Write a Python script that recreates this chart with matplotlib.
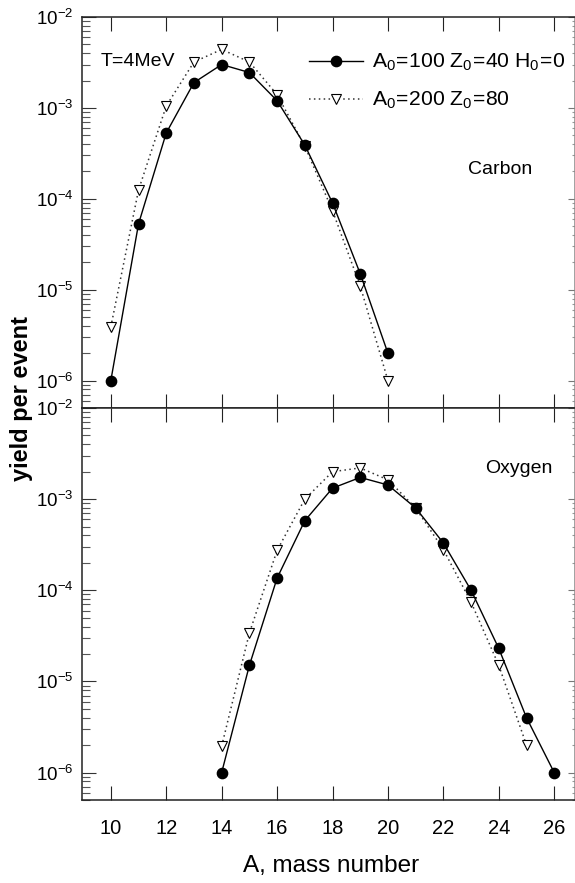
import matplotlib
matplotlib.use('Agg')
import matplotlib.pyplot as plt
from matplotlib.ticker import LogLocator, FixedLocator, NullFormatter, FuncFormatter
import numpy as np

plt.rcParams['font.family'] = ['Liberation Sans', 'DejaVu Sans']
plt.rcParams['mathtext.fontset'] = 'custom'
plt.rcParams['mathtext.rm'] = 'Liberation Sans'
plt.rcParams['mathtext.it'] = 'Liberation Sans:italic'
plt.rcParams['mathtext.bf'] = 'Liberation Sans:bold'

# ---------------- data ----------------
carbon_A = [10, 11, 12, 13, 14, 15, 16, 17, 18, 19, 20]
carbon_y1 = [1.0e-6, 5.3e-5, 5.3e-4, 1.9e-3, 3.0e-3, 2.45e-3, 1.2e-3, 3.9e-4, 9.0e-5, 1.5e-5, 2.0e-6]
carbon_y2 = [3.9e-6, 1.25e-4, 1.05e-3, 3.2e-3, 4.4e-3, 3.2e-3, 1.4e-3, 3.8e-4, 7.4e-5, 1.1e-5, 1.0e-6]

oxygen_A1 = [14, 15, 16, 17, 18, 19, 20, 21, 22, 23, 24, 25, 26]
oxygen_y1 = [1.0e-6, 1.5e-5, 1.36e-4, 5.8e-4, 1.32e-3, 1.73e-3, 1.43e-3, 8.0e-4, 3.3e-4, 1.0e-4, 2.3e-5, 4.0e-6, 1.0e-6]
oxygen_A2 = [14, 15, 16, 17, 18, 19, 20, 21, 22, 23, 24, 25]
oxygen_y2 = [1.95e-6, 3.4e-5, 2.74e-4, 1.0e-3, 2.0e-3, 2.2e-3, 1.63e-3, 8.0e-4, 2.8e-4, 7.4e-5, 1.5e-5, 2.0e-6]

x_ticks = [10, 12, 14, 16, 18, 20, 22, 24, 26]
label1 = r'$\mathregular{A_0\!=\!100\ Z_0\!=\!40\ H_0\!=\!0}$'
label2 = r'$\mathregular{A_0\!=\!200\ Z_0\!=\!80}$'

# ---------------- figure ----------------
W, H = 575, 883
fig = plt.figure(figsize=(W / 100, H / 100), dpi=100)

def fx(px):
    return px / W

def fy(py):
    return 1 - py / H

left, right = 82, 575
ax1 = fig.add_axes([fx(left), fy(408), fx(right - left), (408 - 17) / H])
ax2 = fig.add_axes([fx(left), fy(800), fx(right - left), (800 - 408) / H])

def yfmt(v, pos):
    e = int(round(np.log10(v)))
    return r'$\mathregular{10^{%d}}$' % e

for ax in (ax1, ax2):
    ax.set_yscale('log')
    ax.set_ylim(5.0e-7, 1e-2)
    ax.set_xlim(8.96, 26.75)
    ax.xaxis.set_major_locator(FixedLocator(x_ticks))
    ax.yaxis.set_major_locator(LogLocator(base=10, numticks=20))
    ax.yaxis.set_minor_locator(LogLocator(base=10, subs=np.arange(2, 10), numticks=20))
    ax.yaxis.set_minor_formatter(NullFormatter())
    ax.yaxis.set_major_formatter(FuncFormatter(yfmt))
    ax.tick_params(axis='x', which='major', direction='in', length=10, width=0.8,
                   top=True, bottom=True, color='#222222', labelsize=14.5, pad=14)
    ax.tick_params(axis='y', which='major', direction='in', length=10, width=0.8,
                   left=True, right=False, color='#333333', labelsize=13.5, pad=6)
    ax.tick_params(axis='y', which='minor', direction='in', length=6, width=0.8,
                   left=True, right=False, color='#555555')
    for s in ax.spines.values():
        s.set_linewidth(1.1)
        s.set_color('#222222')
    ax.spines['right'].set_color('#888888')
    ax.spines['right'].set_linestyle((0, (1, 1)))
    # right-side short ticks
    sec = ax.secondary_yaxis('right')
    sec.tick_params(axis='y', which='major', direction='in', length=5, width=0.8, color='#777777', labelright=False)
    sec.tick_params(axis='y', which='minor', direction='in', length=2, width=0.8, color='#999999')
    sec.yaxis.set_major_formatter(NullFormatter())
    sec.yaxis.set_minor_formatter(NullFormatter())
    sec.spines['right'].set_visible(False)

ax1.tick_params(axis='x', labelbottom=False)

line_kw1 = dict(color='black', lw=1.0, marker='o', ms=7.4, mfc='black', mec='black')
line_kw2 = dict(color='#333333', lw=1.1, ls=(0, (1, 2.2)), marker='v', ms=7.0,
                mfc='white', mec='black', mew=0.8)

ax1.plot(carbon_A, carbon_y2, label=label2, zorder=2, **line_kw2)
ax1.plot(carbon_A, carbon_y1, label=label1, zorder=3, **line_kw1)
ax2.plot(oxygen_A2, oxygen_y2, zorder=2, **line_kw2)
ax2.plot(oxygen_A1, oxygen_y1, zorder=3, **line_kw1)

h, l = ax1.get_legend_handles_labels()
leg = ax1.legend(h[::-1], l[::-1], loc='upper left',
                 bbox_to_anchor=((309 - left) / (right - left), 1 - 35 / 391),
                 frameon=False, fontsize=15.2, handlelength=2.55, handletextpad=0.45,
                 labelspacing=0.8, borderpad=0, borderaxespad=0)

fig.text(fx(101), fy(61), 'T=4MeV', fontsize=14, va='center', ha='left')
fig.text(fx(468), fy(169), 'Carbon', fontsize=14, va='center', ha='left')
fig.text(fx(485), fy(468), 'Oxygen', fontsize=14, va='center', ha='left')

fig.text(fx(331), fy(866), 'A, mass number', fontsize=17.5, ha='center', va='center')
fig.text(fx(22), fy(398), 'yield per event', fontsize=17, fontweight='bold',
         rotation=90, ha='center', va='center')

fig.savefig('out.png', dpi=100)
